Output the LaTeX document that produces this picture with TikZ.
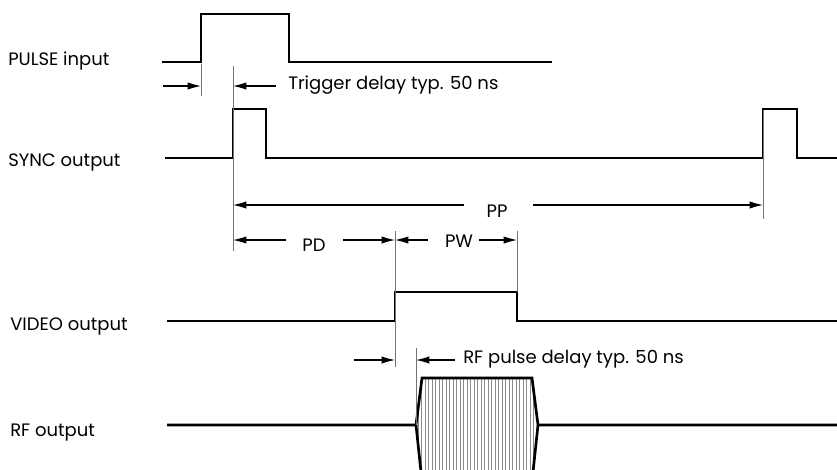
\documentclass[tikz,border=0pt]{standalone}
\usepackage{fontspec}
\setmainfont{Poppins}
\usetikzlibrary{positioning,calc,arrows.meta}

\begin{document}
\begin{tikzpicture}[
    x=0.75pt, y=-0.75pt,            % one unit = one pixel of the reference, y downwards
    >={Latex[length=10pt,width=5.5pt]},
    font=\fontsize{13.5}{15}\selectfont
  ]

  % Global Style Definitions
  \tikzset{
    signal/.style={line width=2pt, line join=miter},
    dimline/.style={line width=0.8pt},
    extline/.style={line width=0.5pt, black!55},
    hatch/.style={line width=0.6pt, black!45},
    signame/.style={anchor=base west, inner sep=0pt},
    dimtext/.style={anchor=base, inner sep=0pt}
  }

  \useasboundingbox (0,0) rectangle (837,469);

  % Signal names
  \node (pulseName) [signame] at (8,65)  {PULSE input};
  \node (syncName)  [signame] at (8,166) {SYNC output};
  \node (videoName) [signame] at (10,330) {VIDEO output};
  \node (rfName)    [signame] at (10,436) {RF output};

  % Edges of the waveforms
  \coordinate (pulseRise) at (201,62);
  \coordinate (syncRise)  at (233,158);
  \coordinate (syncNext)  at (763,158);
  \coordinate (videoRise) at (395,321);
  \coordinate (videoFall) at (517,321);
  \coordinate (rfRise)    at (416,425);

  % PULSE input
  \draw[signal] (162,62) -- (pulseRise) -- (201,14) -- (289,14) -- (289,62) -- (552,62);

  % SYNC output
  \draw[signal] (165,158) -- (syncRise) -- (233,109) -- (266,109) -- (266,158)
    -- (syncNext) -- (763,109) -- (797,109) -- (797,158) -- (840,158);

  % VIDEO output
  \draw[signal] (167,321) -- (videoRise) -- (395,292) -- (517,292) -- (videoFall) -- (840,321);

  % RF output, hatched carrier burst
  \begin{scope}
    \clip (416,425) -- (422,378) -- (532,378) -- (538,425) -- (533,472) -- (421,472) -- cycle;
    \foreach \x in {418,421.5,...,537}
      \draw[hatch] (\x,376) -- (\x,472);
  \end{scope}
  \draw[signal] (167,425) -- (rfRise) -- (422,378) -- (532,378) -- (538,425) -- (840,425);
  \draw[signal] (rfRise) -- (421,472);
  \draw[signal] (538,425) -- (533,472);

  % Extension lines
  \draw[extline] (201,64) -- (201,96);
  \draw[extline] (233,66) -- (233,251);
  \draw[extline] (763,110) -- (763,219);
  \draw[extline] (395,231) -- (395,367);
  \draw[extline] (517,231) -- (517,292);
  \draw[extline] (416,348) -- (416,425);

  % Trigger delay
  \coordinate (trigL) at (163,86);
  \coordinate (trigA) at (201,86);
  \coordinate (trigB) at (233,86);
  \coordinate (trigR) at (276,86);
  \draw[dimline, ->] (trigL) -- (trigA);
  \draw[dimline, ->] (trigR) -- (trigB);
  \node (trigText) [signame] at (288,89) {Trigger delay typ. 50 ns};

  % Pulse period
  \coordinate (ppL)  at (233,205);
  \coordinate (ppLe) at (464,205);
  \coordinate (ppRs) at (533,205);
  \coordinate (ppR)  at (763,205);
  \draw[dimline, ->] (ppLe) -- (ppL);
  \draw[dimline, ->] (ppRs) -- (ppR);
  \node (ppText) [dimtext] at (497,217) {PP};

  % Pulse delay and pulse width
  \coordinate (pdL)  at (233,240);
  \coordinate (pdLe) at (286,240);
  \coordinate (pdRs) at (343,240);
  \coordinate (pdR)  at (395,240);
  \coordinate (pwLe) at (428,240);
  \coordinate (pwRs) at (479,240);
  \coordinate (pwR)  at (517,240);
  \draw[dimline, ->] (pdLe) -- (pdL);
  \draw[dimline, ->] (pdRs) -- (pdR);
  \draw[dimline, ->] (pwLe) -- (pdR);
  \draw[dimline, ->] (pwRs) -- (pwR);
  \node (pdText) [dimtext] at (314,251) {PD};
  \node (pwText) [dimtext] at (459,247) {PW};

  % RF pulse delay
  \coordinate (rfdL) at (354,360);
  \coordinate (rfdA) at (395,360);
  \coordinate (rfdB) at (416,360);
  \coordinate (rfdR) at (455,360);
  \draw[dimline, ->] (rfdL) -- (rfdA);
  \draw[dimline, ->] (rfdR) -- (rfdB);
  \node (rfdText) [signame] at (463,363) {RF pulse delay typ. 50 ns};

\end{tikzpicture}
\end{document}
